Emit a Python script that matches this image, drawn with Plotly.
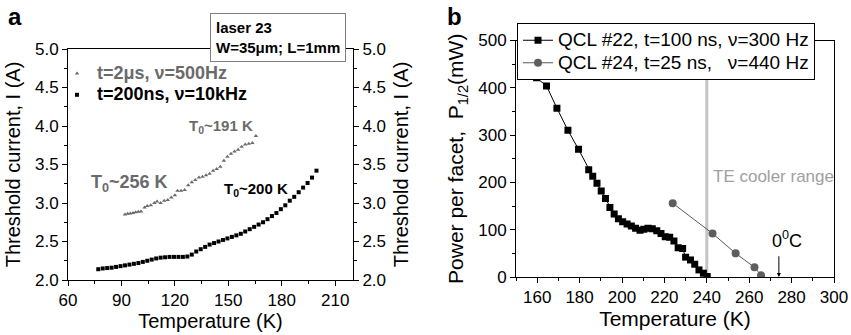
import plotly.graph_objects as go

# ---------------- Panel a data ----------------
a_T_200ns = [77.0, 79.5, 82.0, 84.5, 87.0, 89.5, 92.0, 94.5, 97.0, 99.5, 102.0, 104.5, 107.0, 109.5,
             112.0, 114.5, 117.0, 119.5, 122.0, 124.5, 127.0, 129.5, 132.0, 134.5, 137.0, 139.5,
             142.0, 144.5, 147.0, 149.5, 152.0, 154.5, 157.0, 159.5, 162.0, 164.5, 167.0, 169.5,
             172.0, 174.5, 177.0, 179.5, 182.0, 184.5, 187.0, 189.5, 192.0, 194.5, 197.0, 199.5]
a_I_200ns = [2.14, 2.15, 2.155, 2.16, 2.17, 2.18, 2.19, 2.20, 2.21, 2.22, 2.235, 2.25, 2.265, 2.28,
             2.29, 2.295, 2.30, 2.30, 2.30, 2.30, 2.305, 2.33, 2.37, 2.40, 2.43, 2.46,
             2.48, 2.50, 2.52, 2.54, 2.56, 2.58, 2.60, 2.63, 2.66, 2.69, 2.72, 2.75,
             2.79, 2.83, 2.87, 2.92, 2.97, 3.03, 3.08, 3.14, 3.20, 3.26, 3.33, 3.42]

a_T_2us = [92.0, 93.5, 95.0, 96.5, 98.0, 99.5, 101.0, 103.0, 104.5, 106.5, 108.5, 110.0, 112.0,
           114.0, 116.0, 118.0, 120.0, 121.5, 123.5, 125.5, 127.5, 129.5, 131.5, 133.5, 135.5,
           137.5, 139.5, 141.5, 143.5, 145.5, 147.5, 149.5, 151.5, 153.5, 155.5, 157.5, 159.5,
           161.5, 163.5, 165.5]
a_I_2us = [2.85, 2.86, 2.865, 2.87, 2.88, 2.885, 2.89, 2.94, 2.96, 2.97, 3.00, 3.02, 3.00,
           3.03, 3.04, 3.07, 3.10, 3.16, 3.16, 3.17, 3.23, 3.27, 3.30, 3.33, 3.34,
           3.36, 3.38, 3.42, 3.44, 3.47, 3.55, 3.60, 3.64, 3.67, 3.69, 3.73, 3.76,
           3.77, 3.78, 3.87]

a_xticks = [60, 90, 120, 150, 180, 210]
a_yticks = [2.0, 2.5, 3.0, 3.5, 4.0, 4.5, 5.0]

# ---------------- Panel b data ----------------
b_T_22 = [159.7, 164.4, 169.3, 174.5, 179.5, 184.3, 186.2, 188.2, 190.2, 192.2, 194.3, 196.3,
          198.3, 200.3, 202.4, 204.4, 206.4, 208.5, 210.3, 212.3, 214.3, 216.4, 218.4, 220.4,
          222.5, 224.5, 226.5, 228.6, 230.0, 232.3, 234.3, 236.3, 238.4, 240.2]
b_P_22 = [421, 404, 357, 310, 270, 227, 213, 198, 182, 166, 147, 133,
          123, 117, 112, 108, 103, 99, 101, 103, 102, 98, 92, 85,
          84, 76, 62, 60, 42, 36, 27, 15, 8, 1]

b_T_24 = [223.9, 242.7, 253.6, 262.5, 265.6]
b_P_24 = [156, 92, 50, 20.5, 3.5]

b_xticks = [160, 180, 200, 220, 240, 260, 280, 300]
b_yticks = [0, 100, 200, 300, 400, 500]

W, H = 851, 335
FONT = "Arial, Liberation Sans, sans-serif"
GRAY = "#6a6a6a"


def fx(p):
    return p / W


def fy(p):
    return 1 - p / H


fig = go.Figure()

fig.add_trace(go.Scatter(
    x=a_T_2us, y=a_I_2us, mode="markers", xaxis="x", yaxis="y",
    marker=dict(symbol="triangle-up", size=4, color=GRAY),
    name="<span style='color:#6a6a6a;font-size:18px'><b>t=2μs, ν=500Hz</b></span>",
    legend="legend2"))
fig.add_trace(go.Scatter(
    x=a_T_200ns, y=a_I_200ns, mode="markers", xaxis="x", yaxis="y",
    marker=dict(symbol="square", size=4, color="black"),
    name="<span style='font-size:18px'><b>t=200ns, ν=10kHz</b></span>", legend="legend2"))
# right axis companion (empty)
fig.add_trace(go.Scatter(x=[], y=[], xaxis="x", yaxis="y3", showlegend=False, hoverinfo="skip"))

fig.add_trace(go.Scatter(
    x=b_T_22, y=b_P_22, mode="lines+markers", xaxis="x2", yaxis="y2",
    line=dict(color="black", width=1),
    marker=dict(symbol="square", size=7, color="black"),
    name="<span style='font-size:19px'>QCL #22, t=100 ns, ν=300 Hz</span>", legend="legend"))
fig.add_trace(go.Scatter(
    x=b_T_24, y=b_P_24, mode="lines+markers", xaxis="x2", yaxis="y2",
    line=dict(color="#5a5a5a", width=1),
    marker=dict(symbol="circle", size=8, color="#5e5e5e"),
    name="<span style='font-size:19px'>QCL #24, t=25 ns,   ν=440 Hz</span>", legend="legend"))

axis_common = dict(showline=True, linecolor="black", linewidth=1, ticks="outside",
                   ticklen=5, tickcolor="black", showgrid=False, zeroline=False,
                   automargin=False,
                   tickfont=dict(family=FONT, size=17, color="black"))

fig.update_layout(
    width=W, height=H, margin=dict(l=0, r=0, t=0, b=0),
    paper_bgcolor="white", plot_bgcolor="white",
    font=dict(family=FONT, color="black"),
    xaxis=dict(axis_common, domain=[fx(68), fx(353)], range=[60, 220], tickvals=a_xticks,
               mirror=True, anchor="y",
               minor=dict(ticks="outside", ticklen=3, dtick=15, tickcolor="black"),
               title=dict(text="Temperature (K)", font=dict(size=20), standoff=4)),
    yaxis=dict(axis_common, domain=[fy(280), fy(49)], range=[2.0, 5.0], tickvals=a_yticks,
               tickformat=".1f", anchor="x",
               minor=dict(ticks="outside", ticklen=3, dtick=0.25, tickcolor="black"),
               title=dict(text="Threshold current, I (A)", font=dict(size=20), standoff=8)),
    yaxis3=dict(axis_common, range=[2.0, 5.0], tickvals=a_yticks, tickformat=".1f",
                overlaying="y", side="right", anchor="x",
                minor=dict(ticks="outside", ticklen=3, dtick=0.25, tickcolor="black"),
                title=dict(text="Threshold current, I (A)", font=dict(size=20), standoff=8)),
    xaxis2=dict(axis_common, domain=[fx(516), fx(834)], range=[150, 300], tickvals=b_xticks,
                mirror=True, anchor="y2",
                minor=dict(ticks="outside", ticklen=3, dtick=10, tickcolor="black"),
                title=dict(text="Temperature (K)", font=dict(size=21), standoff=4)),
    yaxis2=dict(axis_common, domain=[fy(277), fy(40.5)], range=[0, 500], tickvals=b_yticks,
                mirror=True, anchor="x2",
                minor=dict(ticks="outside", ticklen=3, dtick=50, tickcolor="black"),
                title=dict(text="Power per facet,  P<sub>1/2</sub>(mW)", font=dict(size=21),
                           standoff=8)),
    legend=dict(x=fx(517), y=fy(23), xanchor="left", yanchor="top",
                bgcolor="white", bordercolor="black", borderwidth=1,
                font=dict(family=FONT, size=15, color="black"),
                tracegroupgap=0, itemwidth=30),
    legend2=dict(x=fx(57), y=fy(58), xanchor="left", yanchor="top",
                 bgcolor="rgba(0,0,0,0)", borderwidth=0,
                 font=dict(family=FONT, size=14, color="black"),
                 tracegroupgap=0, itemwidth=30),
    showlegend=True,
)

fig.add_shape(type="line", xref="x2", yref="y2", x0=240, x1=240, y0=0, y1=500,
              line=dict(color="#c4c4c4", width=3), layer="below")

ann = [
    dict(text="<b>a</b>", x=fx(6), y=fy(17), xref="paper", yref="paper",
         xanchor="left", yanchor="middle", showarrow=False, font=dict(size=24)),
    dict(text="<b>b</b>", x=fx(445), y=fy(17), xref="paper", yref="paper",
         xanchor="left", yanchor="middle", showarrow=False, font=dict(size=24)),
    dict(text="<b>laser 23<br>W=35μm; L=1mm</b>", x=fx(277.5), y=fy(37.5), xref="paper",
         yref="paper", xanchor="center", yanchor="middle", align="left", showarrow=False,
         font=dict(size=15), bordercolor="#808080", borderwidth=1, borderpad=5,
         bgcolor="white"),
    dict(text="<b>T<sub>0</sub>~191 K</b>", x=146, y=4.0, xref="x", yref="y",
         showarrow=False, font=dict(size=15, color=GRAY)),
    dict(text="<b>T<sub>0</sub>~256 K</b>", x=94.5, y=3.25, xref="x", yref="y",
         showarrow=False, font=dict(size=18, color=GRAY)),
    dict(text="<b>T<sub>0</sub>~200 K</b>", x=165.5, y=3.18, xref="x", yref="y",
         showarrow=False, font=dict(size=15, color="black")),
    dict(text="TE cooler range", x=271.5, y=213, xref="x2", yref="y2",
         showarrow=False, font=dict(size=17, color="#a0a0a0")),
    dict(text="0<sup>0</sup>C", x=278, y=80, xref="x2", yref="y2",
         showarrow=False, font=dict(size=18, color="black")),
    dict(text="", x=274, y=0, ax=274, ay=47, xref="x2", yref="y2", axref="x2", ayref="y2",
         showarrow=True, arrowhead=2, arrowsize=0.8, arrowwidth=1, arrowcolor="black",
         standoff=0, startstandoff=0),
]
fig.update_layout(annotations=ann)

fig.write_html("out.html")
